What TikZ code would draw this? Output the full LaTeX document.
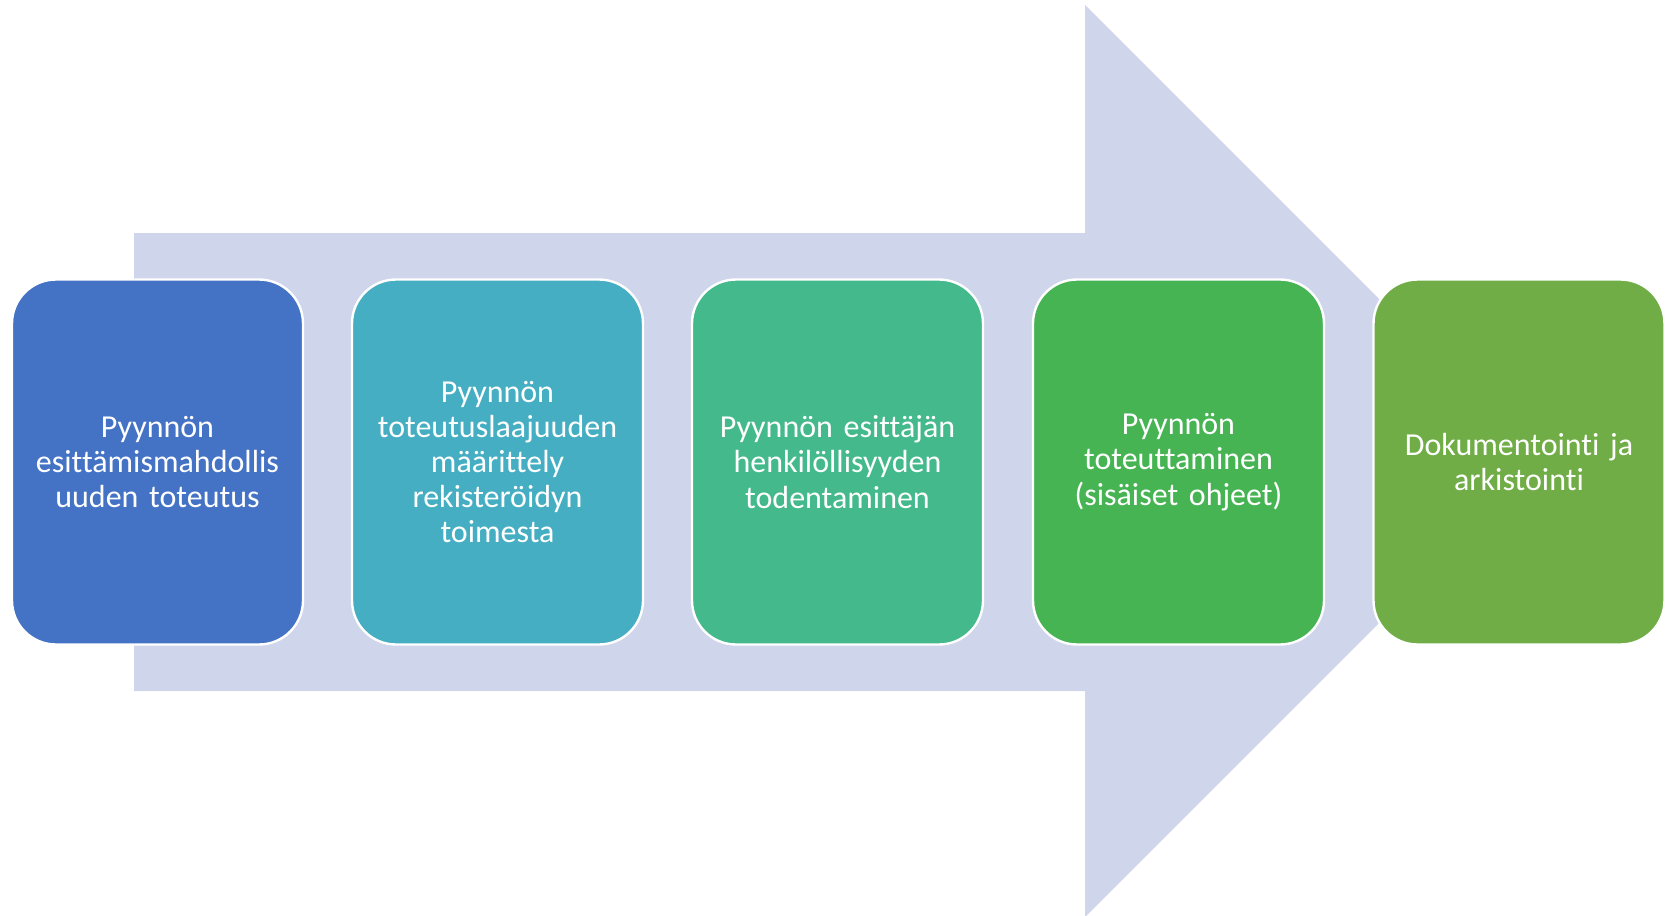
\documentclass[tikz,border=0pt]{standalone}
\usepackage{fontspec}
\setmainfont{Carlito}[Ligatures={NoCommon}]
\definecolor{arrowc}{HTML}{CFD5EA}
\definecolor{c1}{HTML}{4472C4}
\definecolor{c2}{HTML}{45AEC2}
\definecolor{c3}{HTML}{43B98C}
\definecolor{c4}{HTML}{47B454}
\definecolor{c5}{HTML}{70AD47}
\begin{document}
\begin{tikzpicture}[x=0.5pt,y=-0.5pt,
  stepbox/.style={rectangle, rounded corners=22pt, draw=white, line width=1.2pt,
    minimum width=145.5pt, minimum height=182.5pt, text width=140pt, align=center,
    text=white, font=\fontsize{16}{17.6}\selectfont, inner sep=0pt}]
\useasboundingbox (0,0) rectangle (1667,916);
\fill[arrowc] (134,233) -- (1085,233) -- (1085,5) -- (1541,461) -- (1085,917) -- (1085,691) -- (134,691) -- cycle;
\node[stepbox, fill=c1] (s1) at (157.5,462) {Pyynnön\\esittämismahdollis\\uuden toteutus};
\node[stepbox, fill=c2] (s2) at (497.5,462) {Pyynnön\\toteutuslaajuuden\\määrittely\\rekisteröidyn\\toimesta};
\node[stepbox, fill=c3] (s3) at (837.5,462) {Pyynnön esittäjän\\henkilöllisyyden\\todentaminen};
\node[stepbox, fill=c4] (s4) at (1178.5,462) {Pyynnön\\toteuttaminen\\(sisäiset ohjeet)};
\node[stepbox, fill=c5] (s5) at (1519,462) {Dokumentoint\kern0pt i ja\\arkistoint\kern0pt i};
\end{tikzpicture}
\end{document}
